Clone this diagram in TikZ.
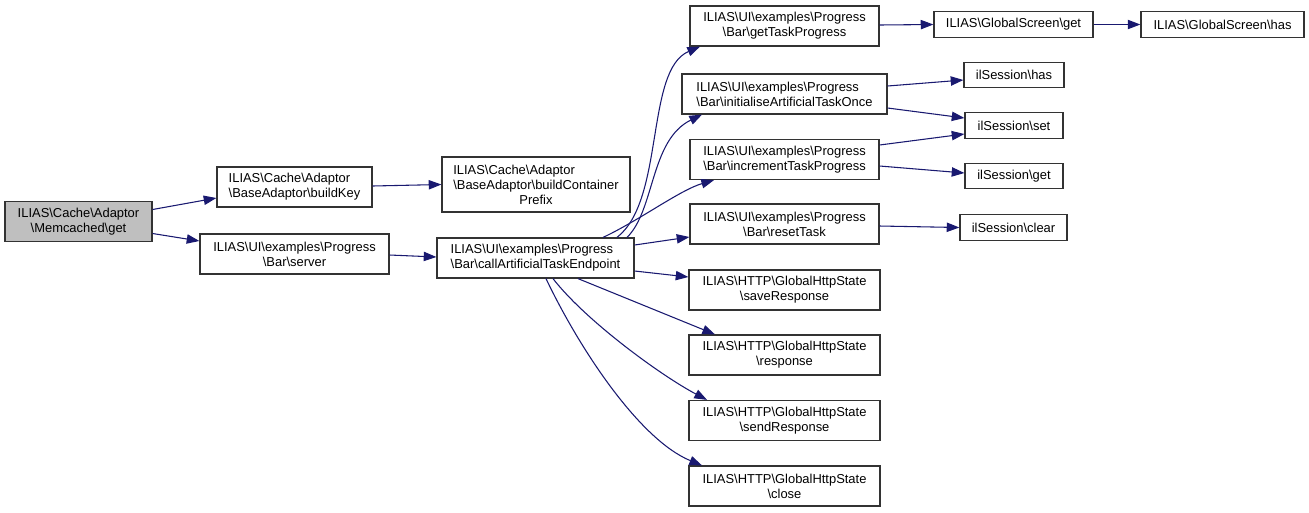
\documentclass[tikz,border=0pt]{standalone}
\usepackage{fontspec}
\setmainfont{Liberation Sans}
\usetikzlibrary{arrows.meta}
\newcommand{\dbs}{\textbackslash}
\definecolor{edgeblue}{HTML}{191970}
\definecolor{boxline}{HTML}{333333}
\definecolor{rootfill}{HTML}{BFBFBF}
\begin{document}
\begin{tikzpicture}[x=0.75pt,y=-0.75pt,
  box/.style={draw=boxline, line width=0.9pt, fill=white, inner sep=0pt, align=center,
    font=\fontsize{9.7}{11.25}\selectfont, minimum height=30pt},
  lbox/.style={box, align=left},
  sbox/.style={box, minimum height=19pt},
  root/.style={box, fill=rootfill},
  edge/.style={draw=edgeblue, line width=0.8pt, -{Triangle[length=9.5pt,width=7pt]}}]
\useasboundingbox (0,0) rectangle (1309,512);

% nodes
\node[root, minimum width=110.25pt] (mget) at (78.5,221.5) {ILIAS\dbs Cache\dbs Adaptor\\\dbs Memcached\dbs get};
\node[lbox, minimum width=116.25pt] (bk) at (294.5,187) {ILIAS\dbs Cache\dbs Adaptor\\\dbs BaseAdaptor\dbs buildKey};
\node[box, minimum width=141.75pt] (srv) at (294.5,254) {ILIAS\dbs UI\dbs examples\dbs Progress\\\dbs Bar\dbs server};
\node[box, minimum width=141pt, minimum height=41.25pt] (bcp) at (536,184.5) {\rlap{ILIAS\dbs Cache\dbs Adaptor}\phantom{\dbs BaseAdaptor\dbs buildContainer}\\\dbs BaseAdaptor\dbs buildContainer\\Prefix};
\node[lbox, minimum width=147.75pt] (cate) at (535.5,258) {ILIAS\dbs UI\dbs examples\dbs Progress\\\dbs Bar\dbs callArtificialTaskEndpoint};
\node[box, minimum width=141.75pt] (gtp) at (784.5,26) {ILIAS\dbs UI\dbs examples\dbs Progress\\\dbs Bar\dbs getTaskProgress};
\node[lbox, minimum width=153.75pt] (iato) at (784.5,94) {ILIAS\dbs UI\dbs examples\dbs Progress\\\dbs Bar\dbs initialiseArtificialTaskOnce};
\node[lbox, minimum width=141.75pt] (itp) at (784.5,159.5) {ILIAS\dbs UI\dbs examples\dbs Progress\\\dbs Bar\dbs incrementTaskProgress};
\node[box, minimum width=141.75pt] (rt) at (784.5,224) {ILIAS\dbs UI\dbs examples\dbs Progress\\\dbs Bar\dbs resetTask};
\node[box, minimum width=143.25pt] (save) at (784.5,290) {ILIAS\dbs HTTP\dbs GlobalHttpState\\\dbs saveResponse};
\node[box, minimum width=143.25pt] (resp) at (784.5,355) {ILIAS\dbs HTTP\dbs GlobalHttpState\\\dbs response};
\node[box, minimum width=143.25pt] (send) at (784.5,420.5) {ILIAS\dbs HTTP\dbs GlobalHttpState\\\dbs sendResponse};
\node[box, minimum width=143.25pt] (close) at (784.5,486) {ILIAS\dbs HTTP\dbs GlobalHttpState\\\dbs close};
\node[sbox, minimum width=119.25pt] (gsget) at (1013.5,24.5) {ILIAS\dbs GlobalScreen\dbs get};
\node[sbox, minimum width=122.25pt] (gshas) at (1222.5,24.5) {ILIAS\dbs GlobalScreen\dbs has};
\node[sbox, minimum width=75pt] (ishas) at (1014,75) {ilSession\dbs has};
\node[sbox, minimum width=73.5pt] (isset) at (1014,125.5) {ilSession\dbs set};
\node[sbox, minimum width=73.5pt] (isget) at (1014,176) {ilSession\dbs get};
\node[sbox, minimum width=80.25pt] (isclr) at (1013.5,227.5) {ilSession\dbs clear};

% edges
\draw[edge] ([shift={(0,-12)}]mget.east) -- ([shift={(0,11)}]bk.west);
\draw[edge] ([shift={(0,12)}]mget.east) -- ([shift={(0,-13)}]srv.west);
\draw[edge] ([shift={(0,-1)}]bk.east) -- (bcp.west);
\draw[edge] ([shift={(0,1)}]srv.east) -- ([shift={(0,-1)}]cate.west);
\draw[edge] ([shift={(0,-1)}]gtp.east) -- (gsget.west);
\draw[edge] (gsget.east) -- (gshas.west);
\draw[edge] ([shift={(0,-8)}]iato.east) -- ([shift={(0,5)}]ishas.west);
\draw[edge] ([shift={(0,14)}]iato.east) -- ([shift={(0,-7.5)}]isset.west);
\draw[edge] ([shift={(0,-14.5)}]itp.east) -- ([shift={(0,8.5)}]isset.west);
\draw[edge] ([shift={(0,6.5)}]itp.east) -- ([shift={(0,-3)}]isget.west);
\draw[edge] ([shift={(0,2)}]rt.east) -- (isclr.west);
\draw[edge] ([shift={(0,-13)}]cate.east) -- ([shift={(0,13)}]rt.west);
\draw[edge] ([shift={(0,13)}]cate.east) -- ([shift={(0,-13)}]save.west);
\draw[edge] ([shift={(42.5,0)}]cate.south) -- ([shift={(-69.5,0)}]resp.north);
\draw[edge] ([shift={(17.5,0)}]cate.south) .. controls (585,320) and (660,375) .. ([shift={(-77.5,0)}]send.north);
\draw[edge] ([shift={(10.5,0)}]cate.south) .. controls (580,350) and (640,440) .. ([shift={(-82.5,0)}]close.north);
\draw[edge] ([shift={(67.5,0)}]cate.north) .. controls (640,220) and (680,190) .. ([shift={(-70.5,0)}]itp.south);
\draw[edge] ([shift={(91.5,0)}]cate.north) .. controls (655,210) and (650,140) .. ([shift={(-82.5,0)}]iato.south);
\draw[edge] ([shift={(81.5,0)}]cate.north) .. controls (665,200) and (645,70) .. ([shift={(-84.5,0)}]gtp.south);
\end{tikzpicture}
\end{document}
